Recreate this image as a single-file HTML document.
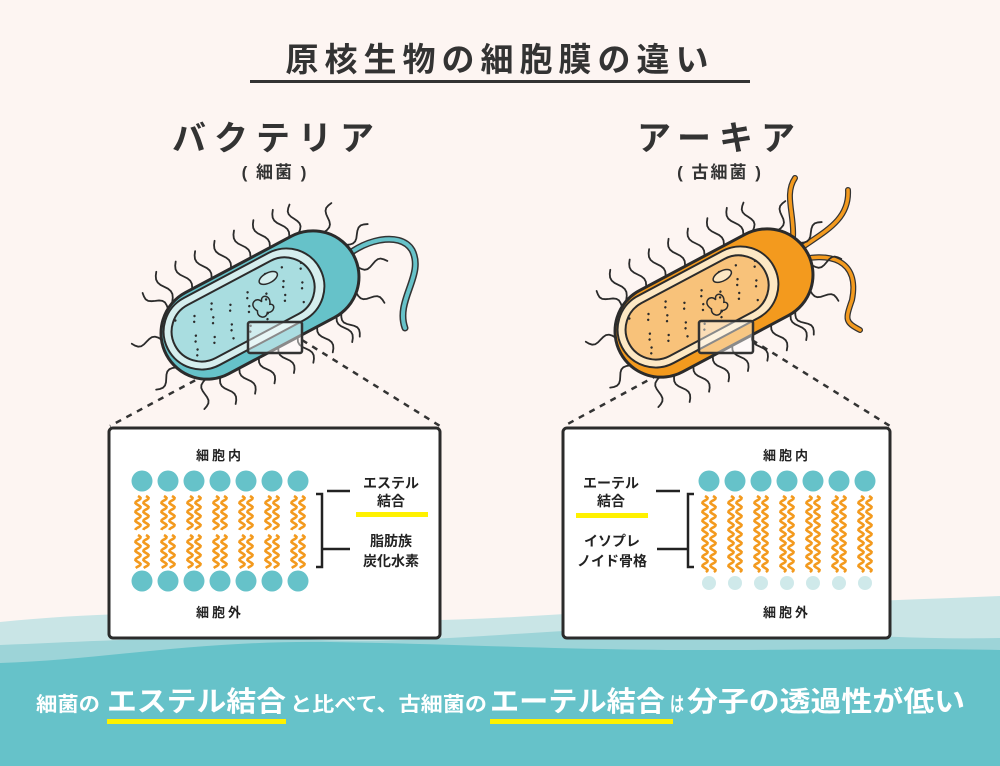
<!DOCTYPE html>
<html><head><meta charset="utf-8"><style>
html,body{margin:0;padding:0;background:#fdf5f2;}
svg{display:block;font-family:"Liberation Sans","Noto Sans CJK JP",sans-serif;}
</style></head><body>
<svg id="s" width="1000" height="766" viewBox="0 0 1000 766" xmlns="http://www.w3.org/2000/svg">
<rect width="1000" height="766" fill="#fdf5f2"/>
<path d="M0 622 C120 610 220 612 330 618 C450 626 560 612 680 608 C800 604 900 600 1000 596 L1000 766 L0 766Z" fill="#c9e5e6"/>
<path d="M0 645 C120 640 200 635 320 640 C440 645 560 625 700 628 C820 632 900 640 1000 638 L1000 766 L0 766Z" fill="#9dd4d8"/>
<path d="M0 663 C100 660 200 640 330 642 C460 644 560 650 700 650 C820 650 920 648 1000 650 L1000 766 L0 766Z" fill="#66c2c9"/>

<text x="500" y="71" text-anchor="middle" font-size="33" font-weight="bold" fill="#333" letter-spacing="6">原核生物の細胞膜の違い</text>
<rect x="250" y="80" width="500" height="3" fill="#333"/>
<text x="277" y="150" text-anchor="middle" font-size="34" font-weight="bold" fill="#333" letter-spacing="8">バクテリア</text>
<text x="275" y="178" text-anchor="middle" font-size="17" font-weight="bold" fill="#333" letter-spacing="2">( 細菌 )</text>
<text x="720" y="150" text-anchor="middle" font-size="34" font-weight="bold" fill="#333" letter-spacing="8">アーキア</text>
<text x="720" y="178" text-anchor="middle" font-size="17" font-weight="bold" fill="#333" letter-spacing="2">( 古細菌 )</text>

<g stroke="#333" stroke-width="2.5" stroke-dasharray="6,6" fill="none">
<line x1="248" y1="352" x2="110" y2="426"/>
<line x1="302" y1="340" x2="440" y2="426"/>
<line x1="700" y1="352" x2="564" y2="426"/>
<line x1="752" y1="340" x2="890" y2="426"/>
</g>

<path d="M340 262 C360 240 400 230 412 250 C425 275 395 300 405 328" stroke="#333" stroke-width="7" fill="none" stroke-linecap="round"/>
<path d="M340 262 C360 240 400 230 412 250 C425 275 395 300 405 328" stroke="#66c2c9" stroke-width="4" fill="none" stroke-linecap="round"/>
<g fill="none" stroke-linecap="round">
<path id="af1" d="M785 262 C805 230 780 200 795 178"/>
<path id="af2" d="M788 258 C815 235 850 225 848 190"/>
<path id="af3" d="M792 262 C830 250 860 260 852 300 C845 320 845 322 860 330"/>
</g>
<g id="cells"></g>

<rect x="248" y="322" width="54" height="31" fill="#ffffff" fill-opacity="0.45" stroke="#333" stroke-width="2.5" rx="2"/>
<rect x="699" y="321" width="54" height="32" fill="#ffffff" fill-opacity="0.45" stroke="#333" stroke-width="2.5" rx="2"/>

<rect x="109" y="428" width="331" height="210" rx="4" fill="#fff" stroke="#2b2b2b" stroke-width="3"/>
<rect x="563" y="428" width="327" height="210" rx="4" fill="#fff" stroke="#2b2b2b" stroke-width="3"/>
<g id="mem"></g>

<g font-size="13" fill="#222" font-weight="bold">
<text x="220" y="460" text-anchor="middle" letter-spacing="3">細胞内</text>
<text x="220" y="617" text-anchor="middle" letter-spacing="3">細胞外</text>
<text x="787" y="460" text-anchor="middle" letter-spacing="3">細胞内</text>
<text x="787" y="617" text-anchor="middle" letter-spacing="3">細胞外</text>
</g>
<g font-size="14" fill="#222" font-weight="bold" text-anchor="middle">
<text x="391" y="488">エステル</text>
<text x="391" y="506">結合</text>
<text x="391" y="546">脂肪族</text>
<text x="391" y="566">炭化水素</text>
<text x="611" y="488">エーテル</text>
<text x="611" y="506">結合</text>
<text x="612" y="546">イソプレ</text>
<text x="612" y="566">ノイド骨格</text>
</g>
<rect x="356" y="512" width="72" height="5" fill="#fff100"/>
<rect x="576" y="513" width="72" height="5" fill="#fff100"/>
<g stroke="#222" stroke-width="2.5" fill="none">
<path d="M316 494 H322 V567 H316"/><line x1="327" y1="491" x2="350" y2="491"/><line x1="322" y1="549" x2="350" y2="549"/>
<path d="M694 494 H688 V567 H694"/><line x1="656" y1="491" x2="680" y2="491"/><line x1="657" y1="549" x2="688" y2="549"/>
</g>

<g fill="#fff" font-weight="bold">
<text x="36" y="711" font-size="20" textLength="64" lengthAdjust="spacingAndGlyphs">細菌の</text>
<text x="107" y="711" font-size="28" textLength="179" lengthAdjust="spacingAndGlyphs">エステル結合</text>
<text x="290" y="711" font-size="20" textLength="197" lengthAdjust="spacingAndGlyphs">と比べて、古細菌の</text>
<text x="490" y="711" font-size="28" textLength="175" lengthAdjust="spacingAndGlyphs">エーテル結合</text>
<text x="670" y="711" font-size="20" textLength="14" lengthAdjust="spacingAndGlyphs">は</text>
<text x="687" y="711" font-size="28" textLength="278" lengthAdjust="spacingAndGlyphs">分子の透過性が低い</text>
</g>
<rect x="107" y="719" width="179" height="5" fill="#fff100"/>
<rect x="490" y="719" width="183" height="5" fill="#fff100"/>
</svg>
<script>
var NS="http://www.w3.org/2000/svg";
function el(t,a,p){var e=document.createElementNS(NS,t);for(var k in a)e.setAttribute(k,a[k]);p.appendChild(e);return e;}
['af1','af2','af3'].forEach(function(id){var p=document.getElementById(id);var d=p.getAttribute('d');var g=p.parentNode;
el('path',{d:d,stroke:'#333','stroke-width':6,fill:'none','stroke-linecap':'round'},g);
el('path',{d:d,stroke:'#f39a1e','stroke-width':3.5,fill:'none','stroke-linecap':'round'},g);p.remove();});
var cells=document.getElementById('cells');
function cell(cx,cy,body,light,cyto){
  var g=el('g',{transform:'translate('+cx+','+cy+') rotate(-28)'},cells);
  var L=106,H=46;
  var hg=el('g',{stroke:'#2b2b2b','stroke-width':1.8,fill:'none','stroke-linecap':'round'},g);
  function hair(x,y,nx,ny,len){var tx=-ny,ty=nx;var d='M'+x+' '+y;var n=10;for(var i=1;i<=n;i++){var t=i/n;var w=Math.sin(t*Math.PI*2)*4;d+=' L'+(x+nx*len*t+tx*w).toFixed(1)+' '+(y+ny*len*t+ty*w).toFixed(1);}el('path',{d:d},hg);}
  for(var x=-76;x<=66;x+=22){hair(x,-H+2,0,-1,34);hair(x+8,H-2,0,1,32);}
  for(var a=-80;a<=80;a+=32){var r=a*Math.PI/180;var ex=L-H+Math.cos(r)*H,ey=Math.sin(r)*H;hair(ex,ey,Math.cos(r),Math.sin(r),30);}
  for(var a=120;a<=240;a+=40){var r=a*Math.PI/180;var ex=-L+H+Math.cos(r)*H,ey=Math.sin(r)*H;hair(ex,ey,Math.cos(r),Math.sin(r),30);}
  el('rect',{x:-L,y:-H,width:2*L,height:2*H,rx:H,fill:body,stroke:'#2b2b2b','stroke-width':3},g);
  el('rect',{x:-L+4,y:-H+4,width:2*L-40,height:2*H-16,rx:H-8,fill:light,stroke:'#2b2b2b','stroke-width':2},g);
  el('rect',{x:-L+12,y:-H+12,width:2*L-58,height:2*H-32,rx:H-16,fill:cyto,stroke:'#2b2b2b','stroke-width':2},g);
  var dg=el('g',{fill:'#2b2b2b'},g);
  for(var i=0;i<40;i++){var px=-L+24+((i*37)%140),py=-H+20+((i*53)%46);el('circle',{cx:px,cy:py,r:1.2},dg);}
  el('ellipse',{cx:20,cy:-20,rx:10,ry:5,fill:light,stroke:'#2b2b2b','stroke-width':1.5},g);
  el('path',{d:'M-5 4 c-6 -10 6 -14 8 -6 c2 -8 12 -2 6 6 c6 2 0 10 -6 6 c-4 6 -12 0 -8 -6z',fill:'none',stroke:'#2b2b2b','stroke-width':1.5},g);
}
cell(260,305,'#66c2c9','#d5eeee','#a9dde0');
cell(714,303,'#f39a1e','#fde8c4','#f8c27a');
var mem=document.getElementById('mem');
function wave(x,y0,y1){var d='M'+x+' '+y0;for(var y=y0;y<=y1;y+=1){d+=' L'+(x+Math.sin((y-y0)/9*2*Math.PI)*2.6).toFixed(2)+' '+y;}
 el('path',{d:d,stroke:'#f39a1e','stroke-width':2.6,fill:'none'},mem);}
for(var i=0;i<7;i++){
 var x=142+i*26;
 el('circle',{cx:x,cy:481,r:10.5,fill:'#66c2c9'},mem);
 el('circle',{cx:x,cy:581,r:10.5,fill:'#66c2c9'},mem);
 wave(x-4,496,530);wave(x+4,496,530);wave(x-4,535,568);wave(x+4,535,568);
 var X=709+i*26;
 el('circle',{cx:X,cy:481,r:10.5,fill:'#66c2c9'},mem);
 el('circle',{cx:X,cy:583,r:7,fill:'#cfe9ea'},mem);
 wave(X-4,496,572);wave(X+4,496,572);
}
</script>
</body></html>
